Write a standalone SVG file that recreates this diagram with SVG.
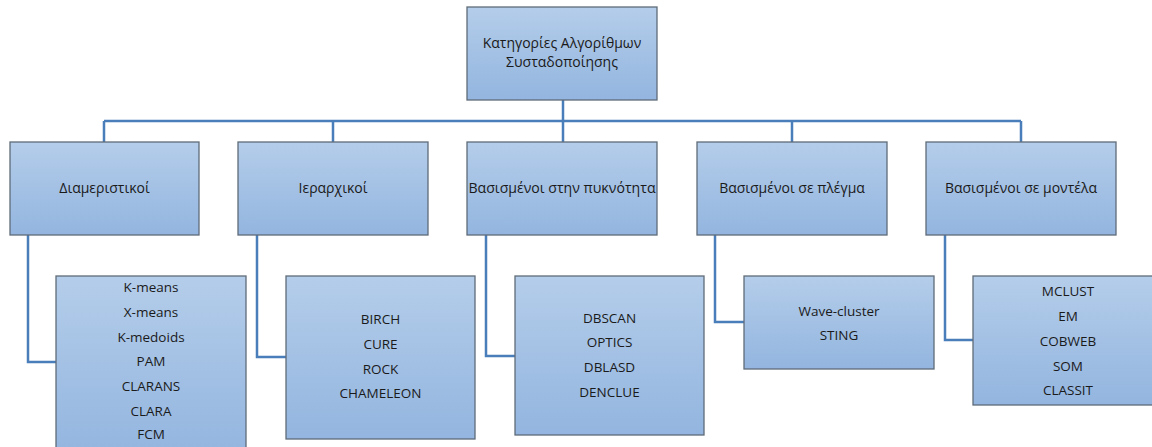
<svg xmlns="http://www.w3.org/2000/svg" width="1152" height="447" viewBox="0 0 1152 447">
<defs>
<linearGradient id="g" x1="0" y1="0" x2="0" y2="1">
<stop offset="0" stop-color="#b4cdea"/>
<stop offset="1" stop-color="#93b5df"/>
</linearGradient>
<style>
.box{fill:url(#g);stroke:#5f6b78;stroke-width:1.3}
.t{font-family:"Open Sans","Noto Sans","DejaVu Sans",sans-serif;font-size:13.5px;fill:#1a1a1a;text-anchor:middle}
.gr{font-size:14px}
.c{fill:none;stroke:#4a7ebb;stroke-width:2.5}
</style>
</defs>
<rect width="1152" height="447" fill="#ffffff"/>
<g id="connectors">
<path class="c" d="M563 100V121"/>
<path class="c" d="M104 121H1021"/>
<path class="c" d="M104 121V142M333 121V142M563 121V142M792 121V142M1021 121V142"/>
<path class="c" d="M28 235V362H56"/>
<path class="c" d="M257 235V357H286"/>
<path class="c" d="M486 235V356H515"/>
<path class="c" d="M715 235V322H744"/>
<path class="c" d="M945 235V340H973"/>
</g>
<g id="root">
<rect class="box" x="467" y="7" width="190" height="93"/>
<text class="t gr" x="562" y="48">Κατηγορίες Αλγορίθμων</text>
<text class="t gr" x="562" y="67">Συσταδοποίησης</text>
</g>
<g id="partitional">
<rect class="box" x="10" y="142" width="189" height="93"/>
<text class="t gr" x="104.5" y="193">Διαμεριστικοί</text>
</g>
<g id="hierarchical">
<rect class="box" x="238" y="142" width="190" height="93"/>
<text class="t gr" x="333" y="193">Ιεραρχικοί</text>
</g>
<g id="density">
<rect class="box" x="467" y="142" width="190" height="93"/>
<text class="t gr" x="562" y="193" textLength="187" lengthAdjust="spacingAndGlyphs">Βασισμένοι στην πυκνότητα</text>
</g>
<g id="grid">
<rect class="box" x="697" y="142" width="190" height="93"/>
<text class="t gr" x="792" y="193">Βασισμένοι σε πλέγμα</text>
</g>
<g id="model">
<rect class="box" x="926" y="142" width="190" height="93"/>
<text class="t gr" x="1021" y="193">Βασισμένοι σε μοντέλα</text>
</g>
<g id="partitional-algs">
<rect class="box" x="56" y="276" width="190" height="180"/>
<text class="t" x="151" y="292">K-means</text>
<text class="t" x="151" y="317">X-means</text>
<text class="t" x="151" y="342">K-medoids</text>
<text class="t" x="151" y="366">PAM</text>
<text class="t" x="151" y="391">CLARANS</text>
<text class="t" x="151" y="416">CLARA</text>
<text class="t" x="151" y="439">FCM</text>
</g>
<g id="hierarchical-algs">
<rect class="box" x="286" y="276" width="189" height="163"/>
<text class="t" x="380.5" y="324">BIRCH</text>
<text class="t" x="380.5" y="349">CURE</text>
<text class="t" x="380.5" y="374">ROCK</text>
<text class="t" x="380.5" y="398">CHAMELEON</text>
</g>
<g id="density-algs">
<rect class="box" x="515" y="276" width="189" height="159"/>
<text class="t" x="609.5" y="323">DBSCAN</text>
<text class="t" x="609.5" y="347">OPTICS</text>
<text class="t" x="609.5" y="372">DBLASD</text>
<text class="t" x="609.5" y="397">DENCLUE</text>
</g>
<g id="grid-algs">
<rect class="box" x="744" y="276" width="190" height="93"/>
<text class="t" x="839" y="316">Wave-cluster</text>
<text class="t" x="839" y="340">STING</text>
</g>
<g id="model-algs">
<rect class="box" x="973" y="276" width="190" height="129"/>
<text class="t" x="1068" y="296">MCLUST</text>
<text class="t" x="1068" y="321">EM</text>
<text class="t" x="1068" y="346">COBWEB</text>
<text class="t" x="1068" y="371">SOM</text>
<text class="t" x="1068" y="395">CLASSIT</text>
</g>
</svg>
